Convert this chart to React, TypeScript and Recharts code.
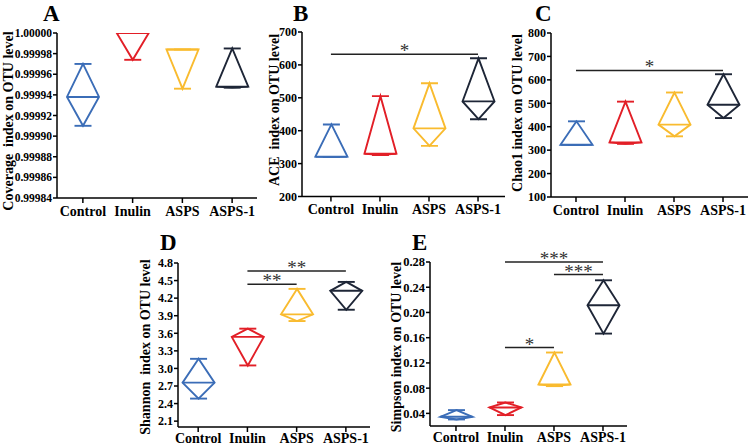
import { ComposedChart, Bar, XAxis, YAxis, ReferenceLine } from "recharts";

const groups = ["Control", "Inulin", "ASPS", "ASPS-1"];
const colors = ["#3b6db7", "#e21f27", "#f9bb2f", "#1e2637"];

const coverageMin = [0.99991, 0.999974, 0.999946, 0.999947];
const coverageMed = [0.999938, 1.0, 0.999984, 0.999948];
const coverageMax = [0.99997, 1.0, 0.999984, 0.999985];
const coverageTicks = [0.99984, 0.99986, 0.99988, 0.9999, 0.99992, 0.99994, 0.99996, 0.99998, 1.0];

const aceMin = [320, 326, 354, 435];
const aceMed = [321, 330, 407, 489];
const aceMax = [419, 505, 544, 620];
const aceTicks = [200, 300, 400, 500, 600, 700];

const chaoMin = [322, 327, 359, 437];
const chaoMed = [323, 333, 409, 494];
const chaoMax = [423, 507, 546, 624];
const chaoTicks = [100, 200, 300, 400, 500, 600, 700, 800];

const shannonMin = [2.485, 3.051, 3.809, 4.002];
const shannonMed = [2.757, 3.538, 3.923, 4.325];
const shannonMax = [3.164, 3.679, 4.358, 4.477];
const shannonTicks = [2.1, 2.4, 2.7, 3.0, 3.3, 3.6, 3.9, 4.2, 4.5, 4.8];

const simpsonMin = [0.0304, 0.0373, 0.0832, 0.1665];
const simpsonMed = [0.0346, 0.0494, 0.0858, 0.2114];
const simpsonMax = [0.0452, 0.0573, 0.1365, 0.251];
const simpsonTicks = [0.04, 0.08, 0.12, 0.16, 0.2, 0.24, 0.28];

// significance brackets: from group, to group, height, stars
const aceSig = [{ from: 0, to: 3, y: 632, text: "*" }];
const chaoSig = [{ from: 0, to: 3, y: 640, text: "*" }];
const shannonSig = [
  { from: 1, to: 3, y: 4.664, text: "**" },
  { from: 1, to: 2, y: 4.438, text: "**" },
];
const simpsonSig = [
  { from: 1, to: 3, y: 0.28, text: "***" },
  { from: 2, to: 3, y: 0.26, text: "***" },
  { from: 1, to: 2, y: 0.1444, text: "*" },
];

const FONT = '"Liberation Serif", "Times New Roman", serif';

function Diamond(props: any) {
  const { x, y, width, height, payload } = props;
  const cx = x + width / 2;
  const top = Math.min(y, y + height);
  const bottom = Math.max(y, y + height);
  const { min, med, max, color } = payload;
  const yMed = bottom - ((bottom - top) * (med - min)) / (max - min);
  const w = 16;
  const c = 8.5;
  return (
    <g fill="none" stroke={color} strokeWidth={1.9}>
      <path d={`M${cx},${top}L${cx - w},${yMed}L${cx},${bottom}L${cx + w},${yMed}Z`} />
      <path d={`M${cx - w},${yMed}H${cx + w}`} />
      <path d={`M${cx - c},${top}H${cx + c}`} />
      <path d={`M${cx - c},${bottom}H${cx + c}`} />
    </g>
  );
}

function Stars(props: any) {
  const { viewBox, value } = props;
  const cx = viewBox.x + viewBox.width / 2;
  return (
    <text
      x={cx}
      y={viewBox.y + 3}
      textAnchor="middle"
      fontSize={19}
      fontFamily={FONT}
      fill="#333"
      stroke="none"
    >
      {value}
    </text>
  );
}

interface PanelProps {
  letter: string;
  title: string;
  mins: number[];
  meds: number[];
  maxs: number[];
  ticks: number[];
  yDomain: [number, number];
  digits: number;
  tickFont: number;
  sig: { from: number; to: number; y: number; text: string }[];
  x0: number;
  x1: number;
  y0: number;
  y1: number;
  xDomain: [number, number];
  letterPos: [number, number];
  titlePos: [number, number];
}

function Panel(p: PanelProps) {
  const yW = 50;
  const padTop = 22;
  const left = p.x0 - yW;
  const top = p.y0 - padTop;
  const width = p.x1 - left + 4;
  const xH = Math.min(30, 446 - p.y1);
  const height = p.y1 - top + xH;
  const data = groups.map((g, i) => ({
    i,
    name: g,
    min: p.mins[i],
    med: p.meds[i],
    max: p.maxs[i],
    color: colors[i],
  }));
  return (
    <>
      <div
        style={{
          position: "absolute",
          left: p.letterPos[0],
          top: p.letterPos[1],
          fontSize: 23,
          fontWeight: 700,
          lineHeight: "23px",
        }}
      >
        {p.letter}
      </div>
      <div
        style={{
          position: "absolute",
          left: p.titlePos[0],
          top: p.titlePos[1],
          transform: "translate(-50%, -50%) rotate(-90deg)",
          fontSize: 14,
          fontWeight: 700,
          whiteSpace: "pre",
          lineHeight: "14px",
        }}
      >
        {p.title}
      </div>
      <div style={{ position: "absolute", left, top }}>
        <ComposedChart
          width={width}
          height={height}
          data={data}
          margin={{ left: 0, top: padTop, right: 4, bottom: 0 }}
        >
          <XAxis
            type="number"
            dataKey="i"
            domain={p.xDomain}
            ticks={[0, 1, 2, 3]}
            interval={0}
            allowDataOverflow
            tickFormatter={(v: number) => groups[v]}
            height={xH}
            stroke="#000"
            strokeWidth={1.5}
            tickSize={5}
            tickMargin={xH < 30 ? 1 : 3}
            tick={{ fontSize: 14, fontWeight: 700, fill: "#000", fontFamily: FONT }}
          />
          <YAxis
            type="number"
            domain={p.yDomain}
            ticks={p.ticks}
            interval={0}
            allowDataOverflow
            width={yW}
            stroke="#000"
            strokeWidth={1.5}
            tickSize={4}
            tickMargin={1}
            tickFormatter={(v: number) => v.toFixed(p.digits)}
            tick={{ fontSize: p.tickFont, fontWeight: 700, fill: "#000", fontFamily: FONT }}
          />
          <Bar
            dataKey={(d: any) => [d.min, d.max]}
            barSize={32}
            shape={<Diamond />}
            isAnimationActive={false}
          />
          {p.sig.map((s, k) => (
            <ReferenceLine
              key={k}
              segment={[
                { x: s.from, y: s.y },
                { x: s.to, y: s.y },
              ]}
              ifOverflow="visible"
              stroke="#222"
              strokeWidth={1.5}
              label={<Stars value={s.text} />}
            />
          ))}
        </ComposedChart>
      </div>
    </>
  );
}

export default function App() {
  return (
    <div
      style={{
        position: "absolute",
        left: 0,
        top: 0,
        width: 750,
        height: 446,
        overflow: "hidden",
        background: "#fff",
        fontFamily: FONT,
        color: "#000",
      }}
    >
      <Panel
        letter="A"
        title={"Coverage  index on OTU level"}
        mins={coverageMin}
        meds={coverageMed}
        maxs={coverageMax}
        ticks={coverageTicks}
        yDomain={[0.99984, 1.0]}
        digits={5}
        tickFont={11.5}
        sig={[]}
        x0={57}
        x1={257}
        y0={33}
        y1={198}
        xDomain={[-0.52, 3.5]}
        letterPos={[43, 2]}
        titlePos={[9, 121]}
      />
      <Panel
        letter="B"
        title={"ACE  index on OTU level"}
        mins={aceMin}
        meds={aceMed}
        maxs={aceMax}
        ticks={aceTicks}
        yDomain={[200, 700]}
        digits={0}
        tickFont={12}
        sig={aceSig}
        x0={302}
        x1={505}
        y0={31.5}
        y1={196}
        xDomain={[-0.59, 3.55]}
        letterPos={[293, 2]}
        titlePos={[275, 110]}
      />
      <Panel
        letter="C"
        title={"Chao1 index on OTU level"}
        mins={chaoMin}
        meds={chaoMed}
        maxs={chaoMax}
        ticks={chaoTicks}
        yDomain={[100, 800]}
        digits={0}
        tickFont={12}
        sig={chaoSig}
        x0={551}
        x1={748}
        y0={33}
        y1={197}
        xDomain={[-0.51, 3.51]}
        letterPos={[535, 2]}
        titlePos={[518, 113]}
      />
      <Panel
        letter="D"
        title={"Shannon  index on OTU level"}
        mins={shannonMin}
        meds={shannonMed}
        maxs={shannonMax}
        ticks={shannonTicks}
        yDomain={[2.0, 4.8]}
        digits={1}
        tickFont={12}
        sig={shannonSig}
        x0={178}
        x1={370}
        y0={263}
        y1={427}
        xDomain={[-0.41, 3.49]}
        letterPos={[160, 231]}
        titlePos={[146, 347]}
      />
      <Panel
        letter="E"
        title={"Simpson index on OTU level"}
        mins={simpsonMin}
        meds={simpsonMed}
        maxs={simpsonMax}
        ticks={simpsonTicks}
        yDomain={[0.02, 0.28]}
        digits={2}
        tickFont={12.5}
        sig={simpsonSig}
        x0={430}
        x1={627}
        y0={262}
        y1={426}
        xDomain={[-0.53, 3.49]}
        letterPos={[412, 231]}
        titlePos={[397, 347]}
      />
    </div>
  );
}
